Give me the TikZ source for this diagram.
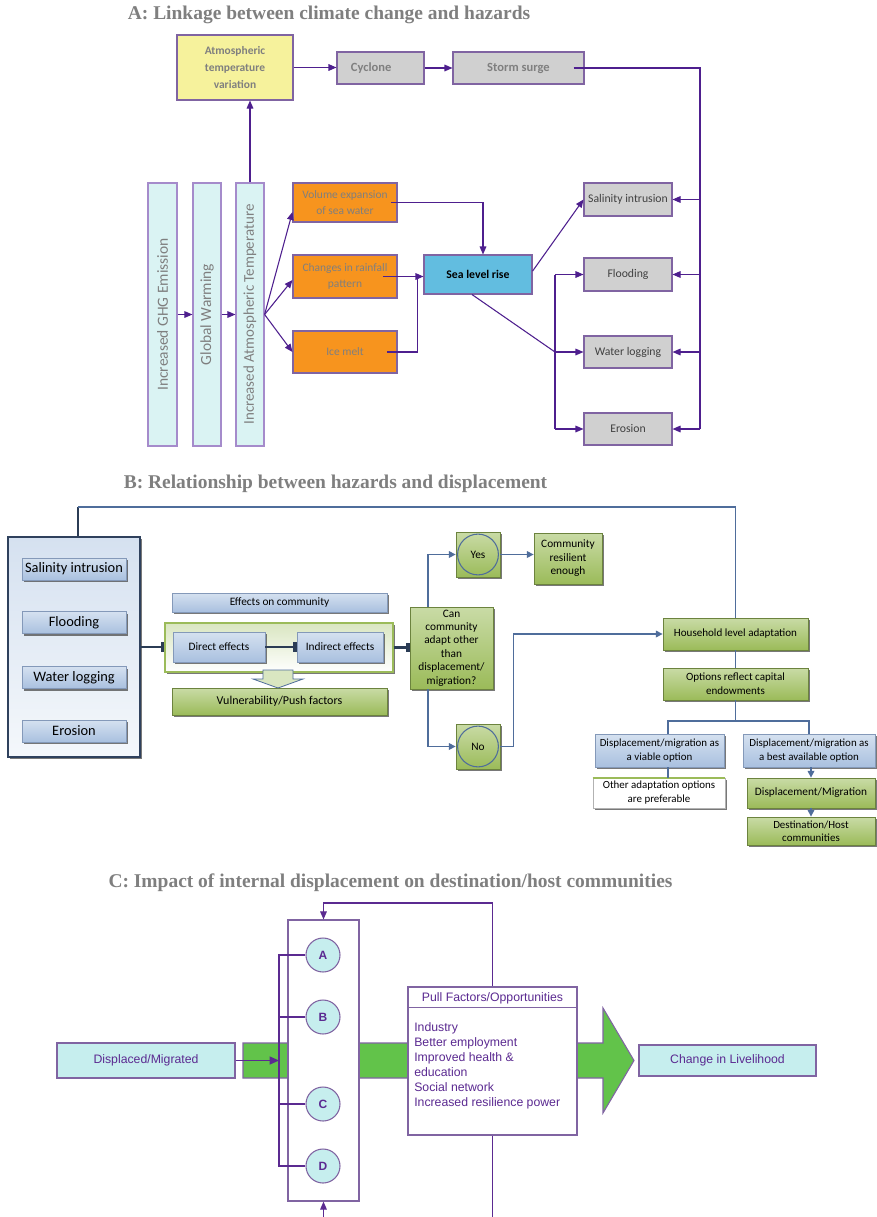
\documentclass[tikz,border=0pt]{standalone}
\usepackage{fontspec}
\setmainfont{Carlito}
\newfontfamily\serf{Liberation Serif}
\newfontfamily\arsf{Liberation Sans}
\usepackage{graphicx}
\usetikzlibrary{arrows.meta,shadows,calc}
\definecolor{pline}{HTML}{4E1F8E}
\definecolor{pbord}{HTML}{8064A2}
\definecolor{plite}{HTML}{A58BCB}
\definecolor{txtg}{HTML}{7F7F7F}
\definecolor{txtd}{HTML}{404040}
\definecolor{ylw}{HTML}{F6F29C}
\definecolor{gbox}{HTML}{D0D0D0}
\definecolor{cyanA}{HTML}{DAF3F3}
\definecolor{orng}{HTML}{F7941E}
\definecolor{seab}{HTML}{62BDE0}
\definecolor{bline}{HTML}{4F6D9B}
\definecolor{grnB}{HTML}{9BBB59}
\definecolor{grnL}{HTML}{C9DBA6}
\definecolor{bluB}{HTML}{A9C0DF}
\definecolor{bluL}{HTML}{D5E1F0}
\definecolor{cyanC}{HTML}{C6EEEE}
\definecolor{grnC}{HTML}{62C34A}
\definecolor{purC}{HTML}{5B2A91}
\tikzset{
  sz/.style 2 args={minimum width=#1*0.75pt, minimum height=#2*0.75pt, inner sep=0.5pt},
  ttl/.style={font=\serf\bfseries\fontsize{14.6}{16}\selectfont, text=txtg},
  abox/.style={draw=pbord, line width=0.8pt, align=center},
  vbox/.style={draw=plite, line width=0.9pt, fill=cyanA, text=txtg, font=\fontsize{11.6}{13}\selectfont},
  obox/.style={abox, fill=orng, text=txtg, font=\fontsize{8.6}{12}\selectfont},
  hbox/.style={abox, fill=gbox, text=txtd, font=\fontsize{8.8}{10}\selectfont},
  pl/.style={pline, line width=0.8pt},
  arr/.style={pl, -{Triangle[length=6pt,width=5pt]}},
  shd/.style={drop shadow={shadow xshift=1.5pt, shadow yshift=-1.5pt, fill=black!75, opacity=0.7}},
  bbox/.style={draw=bline!70, line width=0.6pt, top color=bluL, bottom color=bluB, shd, align=center, text=black},
  gbx/.style={draw=grnB!70!black, line width=0.6pt, top color=grnL, bottom color=grnB, shd, align=center, text=black},
  bcon/.style={bline, line width=0.9pt},
  barr/.style={bcon, -{Triangle[length=5pt,width=5pt]}},
  blk/.style={draw=bline!55!black, line width=1.8pt, -{Rectangle[length=2.5pt,width=7pt]}},
  cbox/.style={draw=pbord, line width=0.9pt},
  cl/.style={purC, line width=0.8pt},
  carr/.style={cl, -{Triangle[length=7pt,width=6pt]}},
  ctxt/.style={text=purC, font=\arsf\fontsize{9.2}{11.25}\selectfont},
  letter/.style={circle, draw=pbord, line width=0.8pt, fill=cyanC, minimum size=34*0.75pt, inner sep=0pt, text=purC, font=\arsf\bfseries\fontsize{9}{10}\selectfont},
  ynode/.style={gbx, sz={44}{45}, path picture={\draw[bline, line width=0.8pt] (path picture bounding box.center) circle (15.3pt);}}
}
\begin{document}
\begin{tikzpicture}[x=0.75pt, y=-0.75pt, font=\fontsize{8.5}{10}\selectfont]
\useasboundingbox[fill=white] (0,0) rectangle (876,1217);

% ================= Section A =================
\node[ttl] (tA) at (329,15) {A: Linkage between climate change and hazards};

\node[abox, fill=ylw, sz={116}{65}, text=txtg, font=\bfseries\fontsize{8.6}{12.75}\selectfont] (atm) at (235,67.5) {Atmospheric\\temperature\\variation};
\node[abox, fill=gbox, sz={87}{32}, text=txtg, font=\bfseries\fontsize{9.4}{10}\selectfont] (cyc) at (380.5,68) {Cyclone\hspace{14pt}};
\node[abox, fill=gbox, sz={131}{32}, text=txtg, font=\bfseries\fontsize{9.4}{10}\selectfont] (storm) at (518.5,68) {Storm surge};

\node[vbox, sz={29}{263}] (ghg) at (162.5,314.5) {\rotatebox{90}{Increased GHG Emission}};
\node[vbox, sz={28}{263}] (gw) at (207,314.5) {\rotatebox{90}{Global Warming}};
\node[vbox, sz={28}{263}, font=\fontsize{11.2}{13}\selectfont] (iat) at (250,314.5) {\rotatebox{90}{Increased Atmospheric Temperature}};

\node[obox, sz={104}{39}] (vol) at (345,202.5) {Volume expansion\\of sea water};
\node[obox, sz={104}{43}] (rain) at (345,276.5) {Changes in rainfall\\pattern};
\node[obox, sz={104}{42}] (ice) at (345,352) {Ice melt};

\node[abox, fill=seab, sz={108}{39}, text=black, font=\bfseries\fontsize{8.8}{10}\selectfont] (slr) at (478,274.5) {Sea level rise};

\node[hbox, sz={88}{33}] (sal) at (628,199.5) {Salinity intrusion};
\node[hbox, sz={88}{33}] (fld) at (628,274.5) {Flooding};
\node[hbox, sz={88}{32}] (wl) at (628,352) {Water logging};
\node[hbox, sz={88}{32}] (ero) at (628,429) {Erosion};

\draw[arr] (ghg.east) -- (gw.west);
\draw[arr] (gw.east) -- (iat.west);
\draw[arr] (iat.north) -- (iat.north |- atm.south);
\draw[arr] (atm.east) -- (atm.east -| cyc.west);
\draw[arr] (cyc.east) -- (storm.west);

\coordinate (busR) at (700,68);
\coordinate (busRb) at (700,429);
\draw[pl] ([xshift=-8.25pt]storm.east) -- (busR) -- (busRb);
\foreach \n in {sal,fld,wl,ero} { \draw[arr] (busR |- \n.east) -- (\n.east); }

\draw[arr] (iat.east) -- ([yshift=-7.1pt]vol.west);
\draw[arr] (iat.east) -- ([yshift=-2.6pt]rain.west);
\draw[arr] (iat.east) -- (ice.west);

\draw[arr] ([xshift=-5pt]vol.east) -| ([xshift=3.75pt]slr.north);
\draw[arr] ([xshift=-11pt]rain.east) -- (rain.east -| slr.west);
\draw[pl] ([xshift=-8pt]ice.east) -| ($(rain.east)+(20,0)$);

\draw[arr] ([yshift=2.5pt]slr.east) -- (sal.west);
\coordinate (jw) at (555,352);
\draw[pl] ([xshift=-4.5pt]slr.south) -- (jw);
\draw[pl] (jw |- fld.west) -- (jw |- ero.west);
\foreach \n in {fld,wl,ero} { \draw[arr] (jw |- \n.west) -- (\n.west); }

% ================= Section B =================
\node[ttl] (tB) at (335.5,484) {B: Relationship between hazards and displacement};

\node[draw=bline!60!black, line width=0.8pt, top color=bluL, bottom color=bluL!25, sz={132}{220}, shd] (hz) at (74,647) {};
\node[bbox, sz={104}{22}, font=\fontsize{10.8}{12}\selectfont] (hs) at (74,569) {Salinity intrusion};
\node[bbox, sz={104}{22}, font=\fontsize{10.8}{12}\selectfont] (hf) at (74,622.5) {Flooding};
\node[bbox, sz={104}{22}, font=\fontsize{10.8}{12}\selectfont] (hw) at (74,677.5) {Water logging};
\node[bbox, sz={104}{22}, font=\fontsize{10.8}{12}\selectfont] (he) at (74,731) {Erosion};

\coordinate (tl) at (78,507);
\coordinate (tr) at (735.5,507);

\node[bbox, sz={215}{19}] (eff) at (279.5,602.5) {Effects on community};
\node[draw=grnB, line width=0.8pt, top color=grnL!70, bottom color=white, sz={228}{49}, shd] (cont) at (279,647.5) {};
\node[bbox, sz={92}{30}] (dir) at (219,647) {Direct effects};
\node[bbox, sz={86}{30}] (ind) at (340,647) {Indirect effects};
\node[gbx, sz={215}{27}, font=\fontsize{9}{10}\selectfont] (vul) at (279.5,701.5) {Vulnerability/Push factors};
\draw[bline, fill=grnL!70, line width=0.6pt] (263,670) -- (293,670) -- (293,679) -- (303,679) -- (278,688) -- (253,679) -- (263,679) -- cycle;

\node[gbx, sz={83}{82}, inner sep=0pt, font=\fontsize{8.5}{10.1}\selectfont] (dec) at (451.5,648) {Can\\community\\adapt other\\than\\displacement/\\migration?};
\node[ynode] (yes) at (478,554.5) {Yes};
\node[ynode] (no) at (478,746.5) {No};
\node[gbx, sz={68}{51}, font=\fontsize{8.5}{10.1}\selectfont] (res) at (568,558.5) {Community\\resilient\\enough};

\node[gbx, sz={145}{32}, font=\fontsize{8.3}{10}\selectfont] (hh) at (735.5,634) {Household level adaptation};
\node[gbx, sz={145}{32}, font=\fontsize{8.3}{10.5}\selectfont] (opt) at (735.5,684) {Options reflect capital\\endowments};
\node[bbox, sz={129}{33}, font=\fontsize{8.2}{10.5}\selectfont] (via) at (659.5,750.5) {Displacement/migration as\\a viable option};
\node[bbox, sz={132}{33}, font=\fontsize{8.2}{10.5}\selectfont] (best) at (809,750.5) {Displacement/migration as\\a best available option};
\node[draw=gray!60, line width=0.6pt, fill=white, sz={132}{30}, shd, align=center, font=\fontsize{8.2}{10.5}\selectfont] (oth) at (659,793) {Other adaptation options\\are preferable};
\draw[grnB, line width=1.5pt] (oth.north west) -- (oth.north east);
\node[gbx, sz={128}{30}, font=\fontsize{8.5}{10}\selectfont] (dm) at (811,793) {Displacement/Migration};
\node[gbx, sz={128}{28}, font=\fontsize{8.2}{10}\selectfont] (dest) at (811,831) {Destination/Host\\communities};

\draw[line width=2pt, draw=bline!55!black] (tl |- hz.north) -- (tl);
\draw[bcon] (tl) -- (tr) -- (hh.north);
\draw[blk] (hz.east) -- (hz.east -| cont.west);
\draw[blk] (dir.east) -- (ind.west);
\draw[blk] (cont.east) -- (cont.east -| dec.west);
\draw[barr] ([xshift=-17.6pt]dec.north) |- (yes.west);
\draw[barr] (yes.east) -- (yes.east -| res.west);
\draw[barr] ([xshift=-17.6pt]dec.south) |- (no.west);
\draw[barr] (no.east) -- ++(13,0) |- (hh.west);
\draw[bcon] (hh.south) -- (opt.north);
\coordinate (sp) at (735.5,721);
\draw[bcon] (opt.south) -- (sp);
\draw[bcon] ([xshift=6.4pt]via.north) |- (best.north |- sp) -- (best.north);
\draw[bcon] ([xshift=6.4pt]via.south) -- ([xshift=6.4pt]via.south |- oth.north);
\draw[barr] (dm.north |- best.south) -- (dm.north);
\draw[barr] (dm.south) -- (dest.north);

% ================= Section C =================
\node[ttl] (tC) at (390.5,883) {C: Impact of internal displacement on destination/host communities};

\draw[fill=grnC, draw=pbord, line width=0.8pt] (243,1043) -- (603,1043) -- (603,1008) -- (634,1060.5) -- (603,1113) -- (603,1078) -- (243,1078) -- cycle;

\node[cbox, fill=cyanC, sz={178}{35}, ctxt] (disp) at (146,1060.5) {Displaced/Migrated};
\node[cbox, fill=white, sz={71}{281}] (col) at (323.5,1060.5) {};
\node[letter] (cA) at (323,955) {A};
\node[letter] (cB) at (323,1017) {B};
\node[letter] (cC) at (323,1104) {C};
\node[letter] (cD) at (323,1166) {D};

\coordinate (busC) at (279,1060.5);
\draw[cl] (cA.west) -| (busC);
\draw[cl] (cD.west) -| (busC);
\draw[cl] (cB.west) -- (cB.west -| busC);
\draw[cl] (cC.west) -- (cC.west -| busC);
\draw[carr] (disp.east) -- (busC);

\node[cbox, fill=white, sz={169}{148}] (pull) at (492.5,1061) {};
\draw[pbord, line width=0.8pt] ($(pull.north west)+(0,21)$) -- ($(pull.north east)+(0,21)$);
\node[ctxt] (pullh) at (492.5,998) {Pull Factors/Opportunities};
\node[ctxt, anchor=north west, align=left, inner sep=0pt] (pulli) at (414,1022) {Industry\\Better employment\\Improved health \&\\education\\Social network\\Increased resilience power};

\node[cbox, fill=cyanC, sz={177}{31}, ctxt] (chg) at (727.5,1060.5) {Change in Livelihood};

\coordinate (ft) at (492.5,903);
\draw[cl, -{Triangle[length=6pt,width=5pt]}] (pull.north) -- (pull.north |- ft) -| (col.north);
\coordinate (bb1) at (492.5,1217);
\coordinate (bb2) at (323.5,1217);
\draw[cl] (pull.south) -- (bb1);
\draw[cl, -{Triangle[length=6pt,width=5pt]}] (bb2) -- (col.south);
\end{tikzpicture}
\end{document}
